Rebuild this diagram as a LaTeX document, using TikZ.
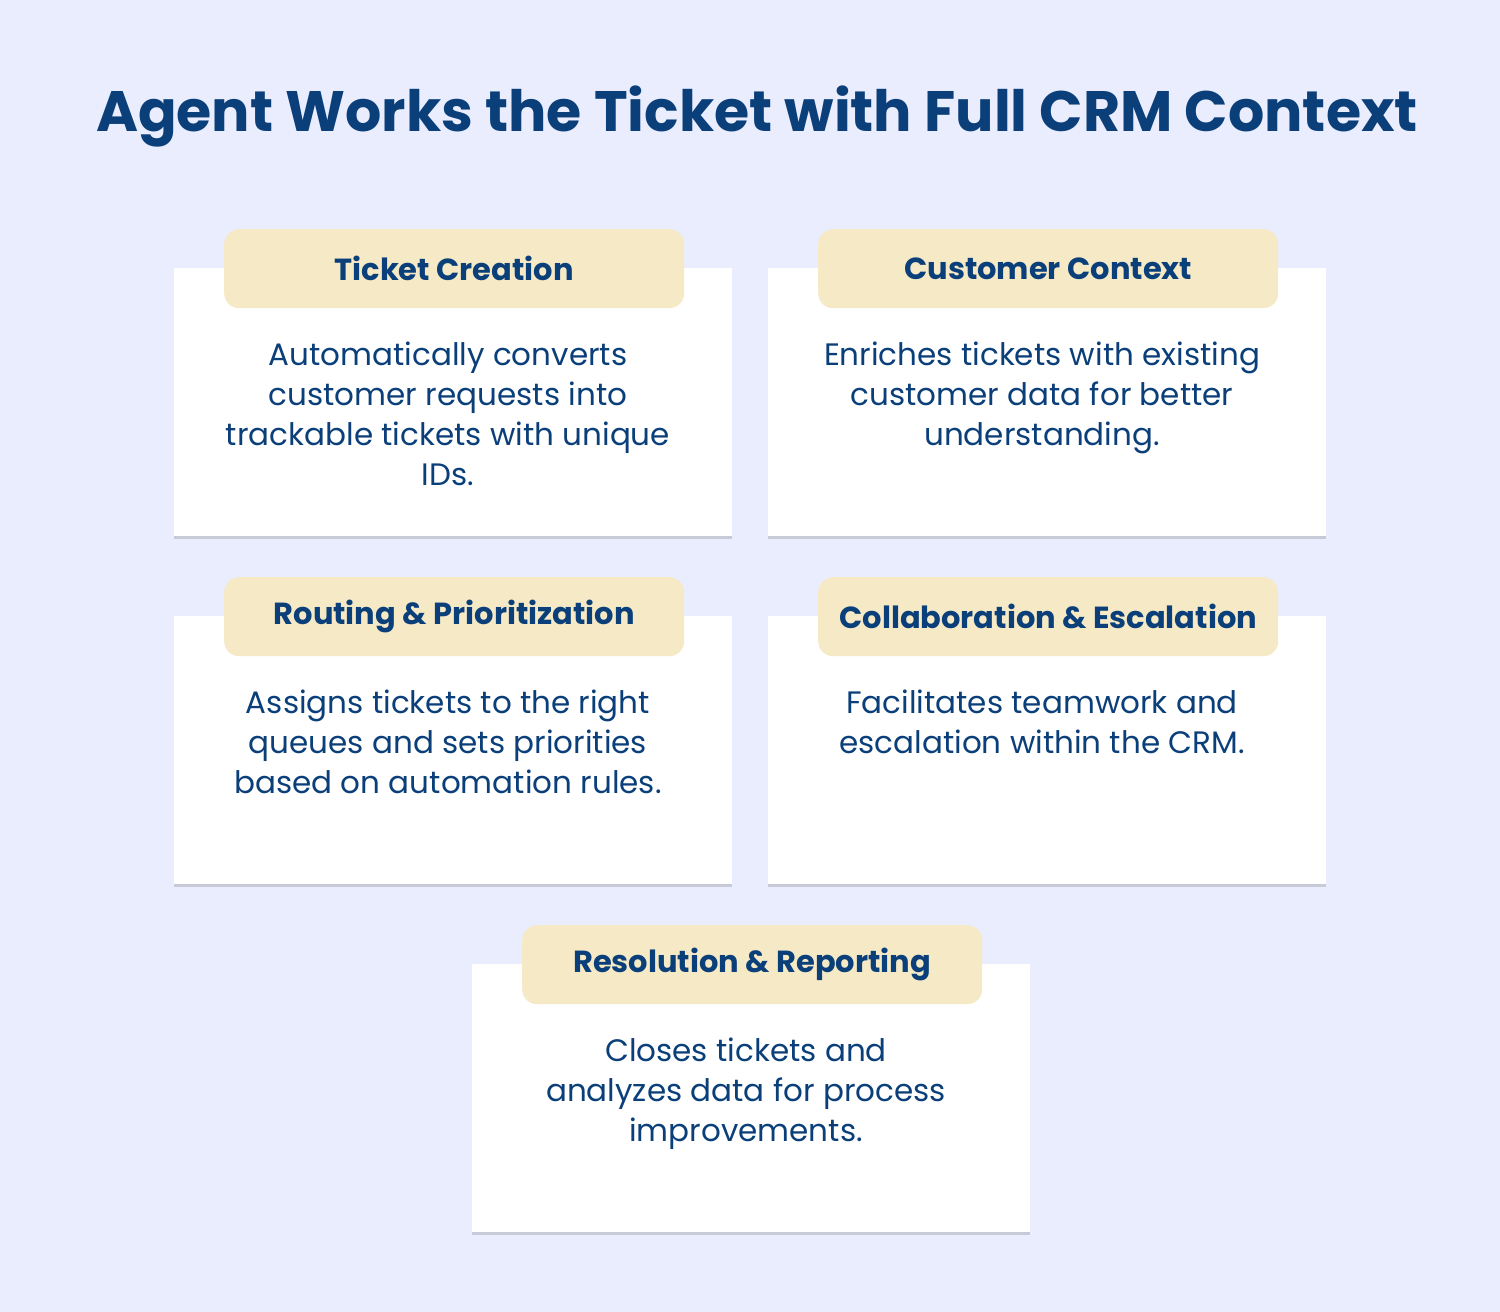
\documentclass[tikz,border=0pt]{standalone}
\usepackage{fontspec}
\setmainfont{Poppins}
\usetikzlibrary{shadows}
\definecolor{bg}{HTML}{EAEDFE}
\definecolor{navy}{HTML}{0B3F7A}
\definecolor{tabc}{HTML}{F5E9C6}
\begin{document}
\begin{tikzpicture}[x=1pt,y=-1pt,
 card/.style={fill=white,draw=none,minimum width=558pt,minimum height=268pt,anchor=north west,inner sep=0pt,
   drop shadow={opacity=0.25,shadow xshift=0pt,shadow yshift=-3pt,fill=black!60}},
 tab/.style={fill=tabc,rounded corners=15pt,minimum width=460pt,minimum height=79pt,anchor=north west,inner sep=0pt,
   font=\fontsize{30.5}{36}\selectfont\bfseries,text=navy},
 body/.style={anchor=north,align=center,text=navy,font=\fontsize{31}{40}\selectfont,inner sep=0pt}]
\fill[bg] (0,0) rectangle (1500,1312);
\node[text=navy,font=\fontsize{57}{60}\selectfont\bfseries] (title) at (757,117) {Agent Works the Ticket with Full CRM Context};
% row 1
\node[card] (c1) at (174,268) {};
\node[tab] (t1) at (224,229) {Ticket Creation};
\node[body] (b1) at (448,342) {Automatically converts\\customer requests into\\trackable tickets with unique\\IDs.};
\node[card] (c2) at (768,268) {};
\node[tab] (t2) at (818,229) {Customer Context};
\node[body] (b2) at (1042,342) {Enriches tickets with existing\\customer data for better\\understanding.};
% row 2
\node[card] (c3) at (174,616) {};
\node[tab] (t3) at (224,577) {Routing \& Prioritization};
\node[body] (b3) at (448,690) {Assigns tickets to the right\\queues and sets priorities\\based on automation rules.};
\node[card] (c4) at (768,616) {};
\node[tab] (t4) at (818,577) {Collaboration \& Escalation};
\node[body] (b4) at (1042,690) {Facilitates teamwork and\\escalation within the CRM.};
% row 3
\node[card] (c5) at (472,964) {};
\node[tab] (t5) at (522,925) {Resolution \& Reporting};
\node[body] (b5) at (746,1038) {Closes tickets and\\analyzes data for process\\improvements.};
\end{tikzpicture}
\end{document}
